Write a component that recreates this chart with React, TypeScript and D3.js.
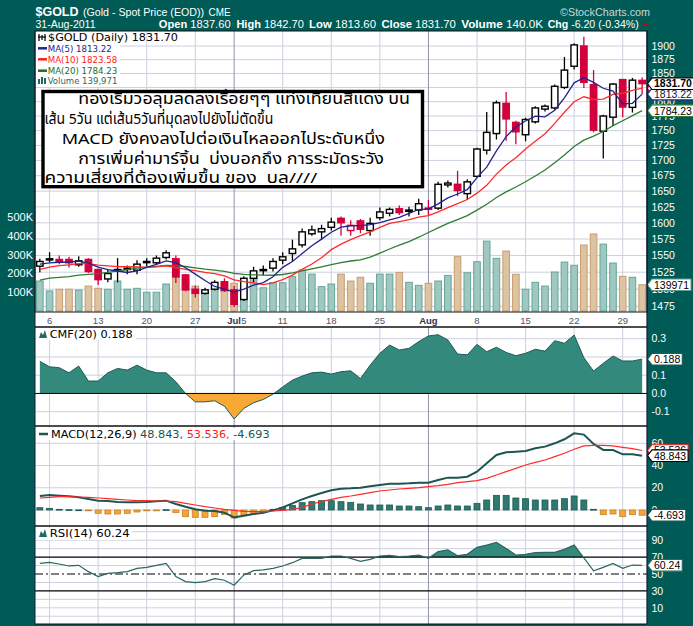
import React from "react";
import * as d3 from "d3";

const dates = [
  "2011-06-03","2011-06-06","2011-06-07","2011-06-08","2011-06-09","2011-06-10",
  "2011-06-13","2011-06-14","2011-06-15","2011-06-16","2011-06-17",
  "2011-06-20","2011-06-21","2011-06-22","2011-06-23","2011-06-24",
  "2011-06-27","2011-06-28","2011-06-29","2011-06-30","2011-07-01",
  "2011-07-05","2011-07-06","2011-07-07","2011-07-08",
  "2011-07-11","2011-07-12","2011-07-13","2011-07-14","2011-07-15",
  "2011-07-18","2011-07-19","2011-07-20","2011-07-21","2011-07-22",
  "2011-07-25","2011-07-26","2011-07-27","2011-07-28","2011-07-29",
  "2011-08-01","2011-08-02","2011-08-03","2011-08-04","2011-08-05",
  "2011-08-08","2011-08-09","2011-08-10","2011-08-11","2011-08-12",
  "2011-08-15","2011-08-16","2011-08-17","2011-08-18","2011-08-19",
  "2011-08-22","2011-08-23","2011-08-24","2011-08-25","2011-08-26",
  "2011-08-29","2011-08-30","2011-08-31",
];

const openP = [1534,1544,1544,1544,1536,1544,1529,1515,1528,1529, 1528,1540,1539,1547,1545,1521,1500,1494,1500,1511, 1499,1485,1516,1528,1531,1543,1553,1566,1583,1586, 1593,1607,1588,1603,1588,1608,1615,1622,1618,1620, 1623,1623,1660,1661,1646,1674,1717,1745,1797,1764, 1743,1765,1787,1789,1825,1863,1900,1830,1749,1773, 1839,1790,1837.6];
const highP = [1545,1555,1550,1548,1549,1546,1530,1529,1546,1535, 1543,1546,1550,1558,1550,1522,1505,1502,1513,1516, 1505,1519,1533,1535,1546,1555,1574,1591,1596,1597, 1608,1610,1604,1606,1608,1624,1624,1627,1625,1638, 1636,1665,1667,1683,1669,1721,1782,1802,1817,1767, 1772,1792,1795,1830,1880,1905,1917,1856,1777,1833, 1840,1842,1842.7];
const lowP = [1525,1540,1537,1532,1533,1524,1506,1510,1510,1522, 1522,1534,1536,1544,1509,1497,1488,1492,1498,1496, 1474,1483,1510,1520,1526,1537,1541,1562,1580,1574, 1588,1580,1580,1584,1580,1604,1610,1612,1610,1612, 1612,1620,1656,1642,1636,1672,1710,1735,1733,1727, 1732,1762,1783,1786,1822,1857,1824,1747,1703,1758, 1773,1781,1813.6];
const closeP = [1541,1545,1541,1539,1542,1526,1514,1523,1529,1531, 1537,1541,1546,1554,1518,1499,1494,1499,1510,1498, 1478,1516,1527,1529,1541,1548,1560,1586,1589,1591, 1601,1600,1596,1590,1599,1617,1621,1616,1620,1630, 1622,1661,1663,1651,1665,1719,1747,1798,1770,1748, 1769,1789,1792,1827,1856,1902,1834,1750.7,1775,1831, 1790.5,1837.9,1831.7];
const volumeK = [160,107,116,116,112,133,121,116,160,116, 121,100,100,144,230,170,133,108,121,148, 148,150,192,124,151,151,183,219,197,130, 144,197,160,180,148,197,197,206,153,137, 148,160,190,290,204,263,373,281,320,196, 116,153,133,208,261,244,352,411,357,256, 185,180,139.971];
// closes of the 19 sessions before the first visible day (for the moving averages)
const priorCloses = [1491,1514,1516,1502,1500,1492,1490,1483,1495,1493,1510,1521,1526,1525,1525,1536,1536,1539,1533];

const cmf20 = [0.176,0.146,0.141,0.113,0.150,0.068,0.068,0.113,0.137,0.128, 0.155,0.128,0.113,0.113,0.064,0.0,-0.046,-0.046,-0.040,-0.070, -0.140,-0.082,-0.051,-0.033,-0.004,0.036,0.073,0.095,0.113,0.117, 0.106,0.119,0.124,0.082,0.155,0.22,0.265,0.238,0.247,0.284, 0.315,0.322,0.293,0.216,0.212,0.269,0.229,0.253,0.225,0.207, 0.22,0.242,0.232,0.289,0.275,0.320,0.196,0.123,0.165,0.205, 0.178,0.178,0.188];
const macdLine = [12.6,13.5,12.9,12.3,11.4,9.9,8.4,8.1,7.2,6.9, 6.9,7.2,7.8,8.4,5.4,3.0,0.6,-0.6,-0.9,-2.4, -6.6,-5.1,-3.6,-2.4,-0.3,2.4,6.0,9.6,12.6,15.3, 17.7,19.2,19.5,20.1,21.3,22.5,23.7,23.7,24.0,24.6, 24.6,27.0,29.1,29.1,30.0,34.5,42.0,49.5,51.9,52.5, 53.1,55.5,57.0,60.0,63.6,69.0,67.8,59.4,54.0,54.0, 50.1,50.1,48.843];
const macdSignal = [10.8,11.4,12,12,11.7,11.4,10.8,10.2,9.6,9, 8.4,8.4,8.1,8.1,7.5,6,4.5,3,1.8,0.6, -0.3,-1.2,-1.5,-1.5,-0.9,-0.3,0.6,2.4,5.4,7.5, 9.6,11.4,12.6,14.1,15.6,17.1,18,18.9,19.5,20.1, 21,21.9,23.1,24.6,25.5,26.4,28.5,31.5,34.5,37.5, 40.5,42.9,45,48,51,54.6,57.6,58.2,58.2,57.6, 56.4,55.2,53.536];
const macdHist = [2.1,1.5,0.6,0.3,0.1,-0.3,-3.0,-3.6,-3.6,-3.0, -1.8,-0.6,-0.3,0.3,-2.4,-6.0,-6.6,-6.6,-6.0,-4.2, -7.2,-4.5,-3.0,-1.8,0.6,2.4,4.2,6.6,7.5,8.4, 8.4,7.5,6.9,5.4,4.5,4.5,4.5,3.6,3.6,3.0, 2.1,3.6,4.5,3.6,3.6,6.0,9.0,13.2,13.2,10.8, 10.2,9.0,9.0,9.0,10.2,12.6,9.0,0.6,-4.2,-3.6, -6.0,-4.2,-4.693];
const rsi14 = [62.6,63.8,61.8,59.5,60.3,52.8,46.9,50.8,51.6,52.8, 56.7,57.9,60.3,62.6,46.9,41,39.8,41,44.6,42.6, 36.7,48.9,54,54.8,56.7,59.5,63.4,68.5,68.5,68.5, 71.3,71.3,68.5,65,67.3,71.3,72.1,70.5,71.3,72.5, 68.5,76.4,78.4,71.7,73.3,81.5,84.2,87.4,80.3,72.5, 73.3,75.3,75.7,75.7,79.2,84.2,69,53.8,57.9,62.6, 56.7,60.6,60.24];

const priceGridTicks = [1475,1500,1525,1550,1575,1600,1625,1650,1675,1700,1725,1750,1775,1800,1825,1850,1875,1900];
// 1825 label sits fully beneath the last-close tag in the reference
const priceLabelTicks = [1475,1500,1525,1550,1575,1600,1625,1650,1675,1700,1725,1750,1775,1800,1850,1875,1900];
const volumeTicks = [100,200,300,400,500];
const volumeTickLabels = ["100K","200K","300K","400K","500K"];
const cmfTicks = [0.3,0.2,0.1,0.0,-0.1];
const cmfTickLabels = ["0.3","0.2","0.1","0.0","-0.1"];
const macdTicks = [60,40,20,0];
const rsiTicks = [90,70,50,30,10];
const rsiGrid = [0,10,20,40,60,80,90,100];
const tickDates = ["2011-06-06","2011-06-13","2011-06-20","2011-06-27","2011-07-01","2011-07-05","2011-07-11","2011-07-18","2011-07-25","2011-08-01","2011-08-08","2011-08-15","2011-08-22","2011-08-29"];
const tickLabels = ["6","13","20","27","Jul","5","11","18","25","Aug","8","15","22","29"];
const gridDates = ["2011-06-06","2011-06-13","2011-06-20","2011-06-27","2011-07-11","2011-07-18","2011-07-25","2011-08-08","2011-08-15","2011-08-22","2011-08-29"];
const monthDates = ["2011-07-01","2011-08-01"];

const thaiLines = [
  "ทองเริ่มวอลุมลดลงเรื่อยๆๆ แท่งเทียนสีแดง บน",
  "เส้น 5วัน แต่เส้น5วันที่มุดลงไปยังไม่ตัดขึ้น",
  "MACD ยังคงลงไปต่อเงินไหลออกไประดับหนึ่ง",
  "การเพิ่มค่ามาร์จิ้น  บ่งบอกถึง การระมัดระวัง",
  "ความเสี่ยงที่ต้องเพิ่มขึ้น ของ  บล////",
];

const BG = "#005a56";
const RED = "#d2003c";
const GRID = "#cdd0de";
const MONTH = "#8e92ac";
const SANS = "Liberation Sans, Arial, sans-serif";
const LEG = "DejaVu Sans, Verdana, sans-serif";

function textW(s: string, fs: number) {
  let w = 0;
  for (const ch of s) w += /[0-9]/.test(ch) ? 0.556 : ch === "." || ch === "," ? 0.278 : ch === "-" ? 0.333 : 0.6;
  return w * fs;
}

function Tag({ y, label, stroke, color = "#000", bold = false, showText = true }: any) {
  const fs = 10.5;
  const w = textW(label, fs) + 4;
  const x0 = 647.5, xa = 652, h = 5.8;
  return (
    <g>
      <path d={`M${x0},${y}L${xa},${y - h}L${xa + w},${y - h}L${xa + w},${y + h}L${xa},${y + h}Z`} fill="#fff" stroke={stroke} strokeWidth={1.1} />
      {showText && <text x={xa + 2} y={y + 3.8} fontSize={fs} fontWeight={bold ? "bold" : "normal"} fill={color} fontFamily={SANS}>{label}</text>}
    </g>
  );
}

function Mountain({ x, y }: any) {
  return <path d={`M${x},${y + 8}L${x + 2},${y + 2}L${x + 4},${y + 5}L${x + 6},${y}L${x + 8},${y + 8}Z`} fill="#1f6b63" />;
}

export default function App() {
  const W = 693, H = 626, L = 35, R = 647;
  const mainTop = 31, mainBot = 312, stripBot = 327, cmfBot = 426, macdBot = 526, rsiBot = 624;

  const x = d3.scaleBand<string>().domain(dates).range([L, R]);
  const bw = x.bandwidth();
  const cx = (d: string) => (x(d) as number) + bw / 2;
  const cxi = (i: number) => cx(dates[i]);

  const yP = d3.scaleLog().domain([1475, 1900]).range([306.5, 46]);
  const yV = d3.scaleLinear().domain([0, 500]).range([311, 217.3]);
  const yC = d3.scaleLinear().domain([-0.1, 0.3]).range([411.7, 338.7]);
  const yM = d3.scaleLinear().domain([0, 60]).range([510, 443.3]);
  const yR = d3.scaleLinear().domain([10, 90]).range([607.8, 540.2]);

  const allCloses = priorCloses.concat(closeP);
  const off = priorCloses.length;
  const movingAvg = (n: number) => closeP.map((_, i) => d3.mean(allCloses.slice(off + i - n + 1, off + i + 1)) as number);
  const ma5 = movingAvg(5), ma10 = movingAvg(10), ma20 = movingAvg(20);

  const priceLine = d3.line<number>().x((_, i) => cxi(i)).y((v) => yP(v));
  const cmfArea = d3.area<number>().x((_, i) => cxi(i)).y0(yC(0)).y1((v) => yC(v));
  const cmfLine = d3.line<number>().x((_, i) => cxi(i)).y((v) => yC(v));
  const macdPath = d3.line<number>().x((_, i) => cxi(i)).y((v) => yM(v));
  const rsiArea = d3.area<number>().x((_, i) => cxi(i)).y0(yR(70)).y1((v) => yR(v));
  const rsiLine = d3.line<number>().x((_, i) => cxi(i)).y((v) => yR(v));

  const vLines = (top: number, bot: number) => (
    <g>
      {gridDates.map((d) => <line key={d} x1={cx(d)} x2={cx(d)} y1={top} y2={bot} stroke={GRID} strokeWidth={1} />)}
      {monthDates.map((d) => <line key={d} x1={cx(d)} x2={cx(d)} y1={top} y2={bot} stroke={MONTH} strokeWidth={1} />)}
    </g>
  );

  const last = closeP.length - 1;

  return (
    <svg width={W} height={H} style={{ position: "absolute", left: 0, top: 0, display: "block" }}>
      <defs>
        <clipPath id="mainClip"><rect x={L} y={mainTop} width={R - L} height={mainBot - mainTop} /></clipPath>
        <clipPath id="cmfPos"><rect x={L} y={stripBot} width={R - L} height={yC(0) - stripBot} /></clipPath>
        <clipPath id="cmfNeg"><rect x={L} y={yC(0)} width={R - L} height={cmfBot - yC(0)} /></clipPath>
        <clipPath id="rsiHi"><rect x={L} y={macdBot} width={R - L} height={yR(70) - macdBot} /></clipPath>
      </defs>
      <rect x={0} y={0} width={W} height={H} fill={BG} />

      {/* Header */}
      <text x={35.5} y={16} fontFamily={SANS} fontWeight="bold" fontSize={13} fill="#fff" textLength={43} lengthAdjust="spacingAndGlyphs">$GOLD</text>
      <text x={83} y={16} fontFamily={SANS} fontSize={11} fill="#fff" textLength={121} lengthAdjust="spacingAndGlyphs">(Gold - Spot Price (EOD))</text>
      <text x={208.5} y={16} fontFamily={SANS} fontSize={11} fill="#fff" textLength={22} lengthAdjust="spacingAndGlyphs">CME</text>
      <text x={560} y={16} fontFamily={SANS} fontSize={11} fill="#c9d6d6" textLength={90} lengthAdjust="spacingAndGlyphs">©StockCharts.com</text>
      <text x={35.5} y={28} fontFamily={SANS} fontSize={11} fill="#fff" textLength={60} lengthAdjust="spacingAndGlyphs">31-Aug-2011</text>
      {[
        ["Open", " 1837.60", 158.8, 71.8],
        ["High", " 1842.70", 236.4, 67.4],
        ["Low", " 1813.60", 309, 67],
        ["Close", " 1831.70", 381.4, 74.5],
        ["Volume", " 140.0K", 461.2, 82],
        ["Chg", " -6.20 (-0.34%)", 547.7, 91],
      ].map(([a, b, xx, w]: any) => (
        <text key={a} x={xx} y={28} fontFamily={SANS} fontSize={11} fill="#fff" textLength={w} lengthAdjust="spacingAndGlyphs" xmlSpace="preserve">
          <tspan fontWeight="bold">{a}</tspan>{b}
        </text>
      ))}
      <path d="M642,23L648.5,23L645.25,27Z" fill="#d00000" />

      {/* Main panel */}
      <rect x={L} y={mainTop} width={R - L} height={mainBot - mainTop} fill="#fff" />
      <g clipPath="url(#mainClip)">
        {priceGridTicks.map((p) => <line key={p} x1={L} x2={R} y1={yP(p)} y2={yP(p)} stroke={GRID} strokeWidth={1} />)}
        {vLines(mainTop, mainBot)}
        {volumeK.map((v, i) => {
          const up = i === 0 || closeP[i] >= closeP[i - 1];
          return <rect key={i} x={cxi(i) - 3.3} y={yV(v)} width={6.6} height={yV(0) - yV(v)} fill={up ? "#9fc9c0" : "#dcc4a2"} stroke={up ? "#66a598" : "#c99c70"} strokeWidth={1} />;
        })}
        {closeP.map((c, i) => {
          const o = openP[i];
          const col = i === 0 || c >= closeP[i - 1] ? "#000" : RED;
          const hollow = c > o;
          const top = yP(Math.max(o, c));
          const bh = Math.max(1.2, yP(Math.min(o, c)) - top);
          return (
            <g key={i}>
              <line x1={cxi(i)} x2={cxi(i)} y1={yP(highP[i])} y2={yP(lowP[i])} stroke={col} strokeWidth={1.3} />
              <rect x={cxi(i) - 3.2} y={top} width={6.4} height={bh} fill={hollow ? "#fff" : col} stroke={col} strokeWidth={1.4} />
            </g>
          );
        })}
        <path d={priceLine(ma20) as string} fill="none" stroke="#2f7d32" strokeWidth={1.3} />
        <path d={priceLine(ma10) as string} fill="none" stroke="#ff2b2b" strokeWidth={1.3} />
        <path d={priceLine(ma5) as string} fill="none" stroke="#23238c" strokeWidth={1.3} />
      </g>

      {/* Main legend */}
      <rect x={36} y={32} width={107} height={11} fill="#fff" />
      <rect x={36} y={43} width={84} height={44} fill="#fff" />
      <g stroke="#000" strokeWidth={1.2}>
        <line x1={39} x2={39} y1={34} y2={41} />
        <line x1={42} x2={42} y1={35} y2={40} />
        <line x1={45} x2={45} y1={34} y2={41} />
        <line x1={38} x2={46} y1={37} y2={37} />
      </g>
      <text x={48} y={40.5} fontFamily={LEG} fontSize={11} fill="#000" textLength={130} lengthAdjust="spacingAndGlyphs">$GOLD (Daily) 1831.70</text>
      {[
        ["MA(5) 1813.22", "#23238c", 48.3, 52.3, 64],
        ["MA(10) 1823.58", "#ff2020", 59.3, 63, 69.7],
        ["MA(20) 1784.23", "#1e6e1e", 70.7, 74.3, 69.7],
      ].map(([t, c, ly, by, w]: any) => (
        <g key={t}>
          <line x1={38} x2={47} y1={ly} y2={ly} stroke={c} strokeWidth={2.5} />
          <text x={47.7} y={by} fontFamily={LEG} fontSize={9.5} fill={c} textLength={w} lengthAdjust="spacingAndGlyphs">{t}</text>
        </g>
      ))}
      <g fill="#1f6b63">
        <rect x={38} y={79} width={2} height={5} />
        <rect x={41} y={77} width={2} height={7} />
        <rect x={44} y={78} width={2} height={6} />
      </g>
      <text x={47.7} y={84.3} fontFamily={LEG} fontSize={9.5} fill="#1f6b63" textLength={69.7} lengthAdjust="spacingAndGlyphs">Volume 139,971</text>

      {/* Thai annotation box */}
      <rect x={43} y={91.5} width={379.5} height={95.2} fill="#fff" stroke="#000" strokeWidth={3.4} />
      {[
        [78.3, 104.3, 331.7],
        [44.5, 124.3, 228.8],
        [61.7, 144.3, 323.3],
        [78.3, 164.3, 305.7],
        [44.5, 182.5, 272.8],
      ].map(([tx, ty, tw], i) => (
        <text key={i} x={tx} y={ty} fontFamily="Tahoma, 'Noto Sans Thai', 'Loma', 'Garuda', 'Norasi', sans-serif" fontSize={15} fill="#000" textLength={tw} lengthAdjust="spacingAndGlyphs" xmlSpace="preserve">{thaiLines[i]}</text>
      ))}

      {/* Axis labels main */}
      {priceLabelTicks.map((p) => <text key={p} x={651.5} y={yP(p) + 3.7} fontFamily={SANS} fontSize={10.5} fill="#fff">{p}</text>)}
      {volumeTicks.map((v, i) => <text key={v} x={33} y={yV(v) + 3.8} textAnchor="end" fontFamily={SANS} fontSize={11} fill="#fff">{volumeTickLabels[i]}</text>)}
      <Tag y={yP(ma10[last])} label="1823.58" stroke="#ff2020" showText={false} />
      <Tag y={yV(volumeK[last])} label="139971" stroke="#5f9f93" />
      <Tag y={yP(ma20[last])} label="1784.23" stroke="#2f7d32" />
      <Tag y={yP(ma5[last])} label="1813.22" stroke="#23238c" color="#101040" />
      <Tag y={yP(closeP[last])} label="1831.70" stroke="#000" bold />

      {/* Date strip */}
      <rect x={L} y={mainBot} width={R - L} height={stripBot - mainBot} fill="#fff" />
      {tickDates.map((d, i) => {
        const month = tickLabels[i] === "Jul" || tickLabels[i] === "Aug";
        return <text key={d} x={cx(d)} y={323.5} textAnchor="middle" fontFamily={SANS} fontSize={9.5} fontWeight={month ? "bold" : "normal"} fill={month ? "#33335a" : "#50506e"}>{tickLabels[i]}</text>;
      })}

      {/* CMF panel */}
      <rect x={L} y={stripBot} width={R - L} height={cmfBot - stripBot} fill="#fff" />
      {[0.3, 0.2, 0.1, -0.1].map((v) => <line key={v} x1={L} x2={R} y1={yC(v)} y2={yC(v)} stroke={GRID} />)}
      {vLines(stripBot, cmfBot)}
      <path d={cmfArea(cmf20) as string} fill="#33897c" clipPath="url(#cmfPos)" />
      <path d={cmfArea(cmf20) as string} fill="#f8a935" clipPath="url(#cmfNeg)" />
      <path d={cmfLine(cmf20) as string} fill="none" stroke="#1f5c56" strokeWidth={1} />
      <line x1={L} x2={R} y1={yC(0)} y2={yC(0)} stroke="#000" strokeWidth={1} />
      <rect x={36} y={328} width={100} height={12} fill="#fff" />
      <Mountain x={39} y={330} />
      <text x={49.7} y={337.5} fontFamily={LEG} fontSize={10} fill="#000" textLength={83} lengthAdjust="spacingAndGlyphs">CMF(20) 0.188</text>
      {cmfTicks.map((v, i) => <text key={v} x={651.5} y={yC(v) + 3.7} fontFamily={SANS} fontSize={10.5} fill="#fff">{cmfTickLabels[i]}</text>)}
      <Tag y={yC(cmf20[last])} label="0.188" stroke="#1f5c56" />

      {/* MACD panel */}
      <rect x={L} y={cmfBot} width={R - L} height={macdBot - cmfBot} fill="#fff" />
      {macdTicks.map((v) => <line key={v} x1={L} x2={R} y1={yM(v)} y2={yM(v)} stroke={GRID} />)}
      {vLines(cmfBot, macdBot)}
      {macdHist.map((v, i) => (
        <rect key={i} x={cxi(i) - 3} y={Math.min(yM(v), yM(0))} width={6} height={Math.max(0.8, Math.abs(yM(v) - yM(0)))} fill={v >= 0 ? "#2e7a70" : "#f5a534"} stroke={v >= 0 ? "#1f5a54" : "#c98227"} strokeWidth={0.8} />
      ))}
      <path d={macdPath(macdLine) as string} fill="none" stroke="#1d5552" strokeWidth={2} />
      <path d={macdPath(macdSignal) as string} fill="none" stroke="#ff2a2a" strokeWidth={1.2} />
      <rect x={36} y={428} width={236} height={12} fill="#fff" />
      <line x1={39} x2={48} y1={434} y2={434} stroke="#1d5552" strokeWidth={2.5} />
      <text x={51} y={437.5} fontFamily={LEG} fontSize={10} fill="#000" textLength={218.6} lengthAdjust="spacingAndGlyphs" xmlSpace="preserve">
        MACD(12,26,9) <tspan fill="#1d5552">48.843,</tspan> <tspan fill="#ff1a1a">53.536,</tspan> <tspan fill="#1d5552">-4.693</tspan>
      </text>
      {macdTicks.map((v) => <text key={v} x={651.5} y={yM(v) + 3.7} fontFamily={SANS} fontSize={10.5} fill="#fff">{v}</text>)}
      <Tag y={yM(macdSignal[last])} label="53.536" stroke="#ff2020" />
      <Tag y={yM(macdLine[last])} label="48.843" stroke="#000" />
      <Tag y={yM(macdHist[last])} label="-4.693" stroke="#1d5552" />

      {/* RSI panel */}
      <rect x={L} y={macdBot} width={R - L} height={rsiBot - macdBot} fill="#fff" />
      {rsiGrid.map((v) => <line key={v} x1={L} x2={R} y1={yR(v)} y2={yR(v)} stroke={GRID} />)}
      {vLines(macdBot, rsiBot)}
      <path d={rsiArea(rsi14) as string} fill="#33897c" clipPath="url(#rsiHi)" />
      <line x1={L} x2={R} y1={yR(70)} y2={yR(70)} stroke="#000" strokeWidth={1.3} />
      <line x1={L} x2={R} y1={yR(30)} y2={yR(30)} stroke="#000" strokeWidth={1.3} />
      <line x1={L} x2={R} y1={yR(50)} y2={yR(50)} stroke="#000" strokeWidth={1.1} strokeDasharray="8,3,2,3" />
      <path d={rsiLine(rsi14) as string} fill="none" stroke="#2a6662" strokeWidth={1.2} />
      <rect x={36} y={528} width={96} height={12} fill="#fff" />
      <Mountain x={39} y={529} />
      <text x={49.7} y={537} fontFamily={LEG} fontSize={10} fill="#000" textLength={80} lengthAdjust="spacingAndGlyphs">RSI(14) 60.24</text>
      {rsiTicks.map((v) => <text key={v} x={651.5} y={yR(v) + 3.7} fontFamily={SANS} fontSize={10.5} fill="#fff">{v}</text>)}
      <Tag y={yR(rsi14[last])} label="60.24" stroke="#2a6662" />

      {/* Panel borders */}
      <rect x={L} y={mainTop} width={R - L} height={mainBot - mainTop} fill="none" stroke="#111" strokeWidth={1} />
      <line x1={L} x2={R} y1={stripBot} y2={stripBot} stroke="#111" strokeWidth={1.3} />
      <line x1={L} x2={R} y1={cmfBot} y2={cmfBot} stroke="#111" strokeWidth={1.5} />
      <line x1={L} x2={R} y1={macdBot} y2={macdBot} stroke="#111" strokeWidth={1.5} />
      <line x1={L} x2={R} y1={rsiBot} y2={rsiBot} stroke="#111" strokeWidth={1.2} />
      <line x1={R} x2={R} y1={mainTop} y2={rsiBot} stroke="#1a1a3a" strokeWidth={1.2} />
      <line x1={L} x2={L} y1={mainTop} y2={rsiBot} stroke="#1a1a3a" strokeWidth={1} />
    </svg>
  );
}
